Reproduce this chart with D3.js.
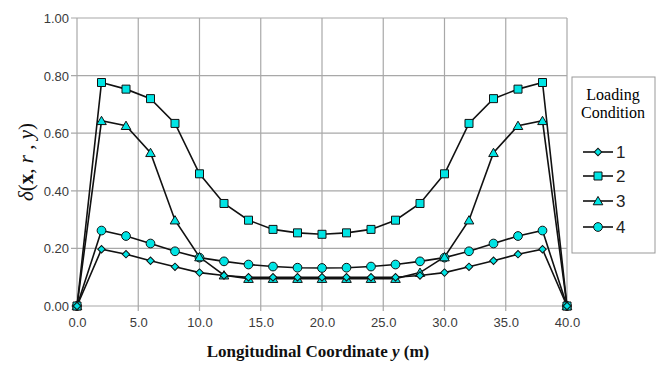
<!DOCTYPE html>
<html><head><meta charset="utf-8">
<script src="https://cdn.jsdelivr.net/npm/d3@7"></script>
<style>body{margin:0;background:#fff}svg{display:block}</style>
</head><body>
<svg id="c" width="666" height="369"></svg>
<script>
const xs = [0,2,4,6,8,10,12,14,16,18,20,22,24,26,28,30,32,34,36,38,40];
const s1 = [0,0.197,0.180,0.157,0.136,0.116,0.106,0.100,0.100,0.100,0.100,0.100,0.100,0.100,0.106,0.116,0.136,0.157,0.180,0.197,0];
const s2 = [0,0.776,0.753,0.720,0.634,0.459,0.356,0.298,0.266,0.254,0.249,0.254,0.266,0.298,0.356,0.459,0.634,0.720,0.753,0.776,0];
const s3 = [0,0.643,0.626,0.532,0.298,0.170,0.107,0.095,0.095,0.095,0.095,0.095,0.095,0.095,0.116,0.170,0.298,0.532,0.626,0.643,0];
const s4 = [0,0.262,0.243,0.217,0.190,0.168,0.155,0.144,0.137,0.133,0.132,0.133,0.137,0.144,0.155,0.168,0.190,0.217,0.243,0.262,0];
const seriesNames = ["1","2","3","4"];
const xTicks = [0,5,10,15,20,25,30,35,40];
const yTicks = [0,0.2,0.4,0.6,0.8,1.0];

const svg = d3.select("#c");
const x = d3.scaleLinear().domain([0,40]).range([77,567]);
const y = d3.scaleLinear().domain([0,1]).range([306,18]);
const grid = "#a8a8a8";
const fillC = "#00e4e4";

svg.append("g").selectAll("line").data(yTicks).join("line")
  .attr("x1",71).attr("x2",567).attr("y1",d=>y(d)).attr("y2",d=>y(d))
  .attr("stroke",grid).attr("stroke-width",1.2);
svg.append("g").selectAll("line").data(xTicks).join("line")
  .attr("x1",d=>x(d)).attr("x2",d=>x(d)).attr("y1",18).attr("y2",311)
  .attr("stroke",grid).attr("stroke-width",1.2);

const ya = svg.append("g").attr("transform","translate(69,0)")
  .call(d3.axisLeft(y).tickValues(yTicks).tickFormat(d3.format(".2f")).tickSize(0));
const xa = svg.append("g").attr("transform","translate(0,316)")
  .call(d3.axisBottom(x).tickValues(xTicks).tickFormat(d3.format(".1f")).tickSize(0));
[ya,xa].forEach(a=>{a.select(".domain").remove();
  a.selectAll("text").attr("font-family","Liberation Sans, Arial, sans-serif").attr("font-size",13).attr("fill","#3a3a3a");});
ya.selectAll("text").attr("dy","0.35em").attr("x",0);
xa.selectAll("text").attr("dy","0.71em").attr("y",2);

const sym = {
  "1": d3.symbol().type(d3.symbolSquare).size(28),
  "2": d3.symbol().type(d3.symbolSquare).size(64),
  "3": d3.symbol().type(d3.symbolTriangle).size(40),
  "4": d3.symbol().type(d3.symbolCircle).size(60)
};
const rot = {"1":45,"2":0,"3":0,"4":0};
const dy = {"1":0,"2":0,"3":1,"4":0};
const all = [s1,s2,s3,s4];
const line = d3.line().x((d,i)=>x(xs[i])).y(d=>y(d));
const order = [3,2,1,0];
order.forEach(k=>{
  svg.append("path").attr("d",line(all[k])).attr("fill","none").attr("stroke","#111").attr("stroke-width",1.6);
});
order.forEach(k=>{
  const name = seriesNames[k];
  svg.append("g").selectAll("path").data(all[k]).join("path")
    .attr("d",sym[name]())
    .attr("transform",(d,i)=>`translate(${x(xs[i])},${y(d)+dy[name]}) rotate(${rot[name]})`)
    .attr("fill",fillC).attr("stroke","#111").attr("stroke-width",1);
});

const lg = svg.append("g");
lg.append("rect").attr("x",572).attr("y",77).attr("width",83).attr("height",176)
  .attr("fill","#fff").attr("stroke","#999").attr("stroke-width",1);
lg.append("text").attr("x",613).attr("y",100).attr("text-anchor","middle")
  .attr("font-family","Liberation Serif, Times New Roman, serif").attr("font-size",16).text("Loading");
lg.append("text").attr("x",613).attr("y",118).attr("text-anchor","middle")
  .attr("font-family","Liberation Serif, Times New Roman, serif").attr("font-size",16).text("Condition");
const ly = [152,176,201,227];
seriesNames.forEach((n,i)=>{
  lg.append("line").attr("x1",583).attr("x2",613).attr("y1",ly[i]).attr("y2",ly[i]).attr("stroke","#111").attr("stroke-width",1.6);
  lg.append("path").attr("d",sym[n]()).attr("transform",`translate(598,${ly[i]+dy[n]}) rotate(${rot[n]})`)
    .attr("fill",fillC).attr("stroke","#111").attr("stroke-width",1);
  lg.append("text").attr("x",616).attr("y",ly[i]).attr("dy","0.35em")
    .attr("font-family","Liberation Sans, Arial, sans-serif").attr("font-size",17).attr("fill","#222").text(n);
});

const yt = svg.append("text").attr("transform","translate(33,162) rotate(-90)").attr("text-anchor","middle")
  .attr("font-family","Liberation Serif, Times New Roman, serif").attr("font-size",21).attr("fill","#111");
yt.append("tspan").attr("font-style","italic").text("δ");
yt.append("tspan").text("(");
yt.append("tspan").attr("font-weight","bold").text("x");
yt.append("tspan").text(", ");
yt.append("tspan").attr("font-style","italic").text("r");
yt.append("tspan").text(" , ");
yt.append("tspan").attr("font-style","italic").text("y");
yt.append("tspan").text(")");

const xt = svg.append("text").attr("x",318).attr("y",357).attr("text-anchor","middle")
  .attr("font-family","Liberation Serif, Times New Roman, serif").attr("font-size",17).attr("font-weight","bold").attr("fill","#111");
xt.append("tspan").text("Longitudinal Coordinate ");
xt.append("tspan").attr("font-style","italic").text("y");
xt.append("tspan").text(" (m)");
</script>
</body></html>
